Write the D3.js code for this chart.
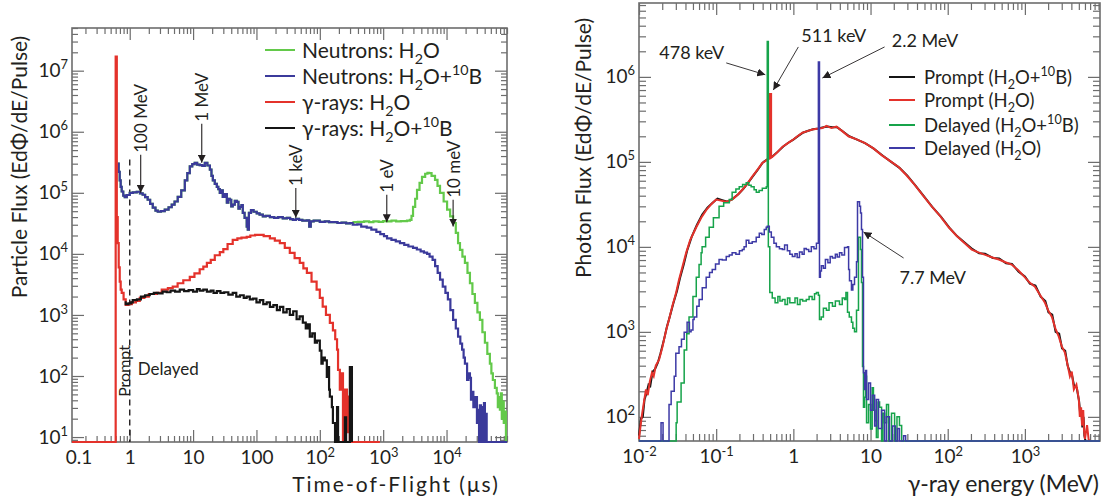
<!DOCTYPE html>
<html>
<head>
<meta charset="utf-8">
<script src="https://cdn.jsdelivr.net/npm/d3@7"></script>
<style>
  body { margin: 0; background: #fff; }
  svg { font-family: Lato, "Open Sans", sans-serif; }
</style>
</head>
<body>
<svg id="chart" width="1112" height="503"></svg>
<script>
// ---------------- data ----------------
const FLOOR_L = 8.3;   // empty bins sit on the bottom of the left plot
const FLOOR_R = 52;    // same for the right plot

// left panel: [time-of-flight (us), flux]
// neutrons, identical for both targets up to a few ms
const neutronShared = [
  [0.646, 3.0e5], [0.67, 2.2e5], [0.695, 1.6e5], [0.72, 1.25e5], [0.747, 1.05e5], [0.79, 9.0e4],
  [0.834, 8.5e4], [0.9, 9.2e4], [1.0, 1.0e5], [1.12, 1.02e5], [1.29, 1.04e5], [1.45, 9.8e4],
  [1.6, 9.3e4], [1.75, 8.5e4], [1.92, 7.7e4], [2.1, 6.6e4], [2.31, 5.7e4], [2.55, 5.1e4],
  [2.77, 4.9e4], [3.1, 5.0e4], [3.57, 5.3e4], [4.1, 5.8e4], [4.6, 6.4e4], [5.1, 7.2e4],
  [5.72, 8.6e4], [6.5, 1.1e5], [7.4, 1.6e5], [8.1, 2.1e5], [8.87, 2.7e5], [9.7, 2.95e5],
  [10.6, 3.1e5], [11.6, 2.9e5], [12.7, 2.85e5], [14.0, 2.75e5], [15.3, 3.1e5], [16.8, 2.8e5],
  [18.4, 2.4e5], [19.5, 1.9e5], [20.5, 1.6e5], [22.0, 1.4e5], [23.7, 1.25e5], [25.0, 1.15e5],
  [26.4, 1.0e5], [28.0, 1.1e5], [29.4, 8.6e4], [31.5, 9.5e4], [34.1, 6.9e4], [36.0, 8.0e4],
  [37.9, 7.7e4], [40.0, 6.0e4], [42.2, 6.4e4], [45.5, 7.4e4], [49.0, 7.1e4], [52.0, 5.5e4],
  [54.6, 5.9e4], [58.0, 6.3e4], [60.9, 4.7e4], [65.0, 3.9e4], [70.2, 2.8e4], [73.0, 2.5e4],
  [76.0, 4.7e4], [82.0, 5.2e4], [90.0, 4.9e4], [101, 4.6e4], [112, 4.4e4], [126, 4.1e4],
  [140, 4.2e4], [163, 4.0e4], [190, 3.9e4], [220, 4.0e4], [260, 3.8e4], [302, 3.9e4],
  [340, 3.7e4], [376, 3.6e4], [420, 3.75e4], [470, 3.6e4], [530, 3.5e4], [625, 3.55e4],
  [680, 2.8e4], [720, 3.4e4], [800, 3.5e4], [1000, 3.35e4], [1200, 3.4e4], [1400, 3.3e4],
  [1610, 3.3e4], [1900, 3.2e4], [2200, 3.25e4], [2600, 3.15e4], [3000, 3.2e4]
];
const neutronH2OTail = [
  [3400, 3.3e4], [4000, 3.35e4], [5000, 3.4e4], [6000, 3.3e4], [7000, 3.4e4], [8500, 3.35e4],
  [10000, 3.45e4], [11400, 3.4e4], [13500, 3.5e4], [16000, 3.4e4], [19000, 3.45e4], [23800, 3.5e4],
  [26400, 3.6e4], [28000, 4.2e4], [29600, 5.9e4], [32000, 8.0e4], [34200, 1.12e5], [37500, 1.45e5],
  [41000, 1.83e5], [46000, 2.05e5], [50000, 2.13e5], [53000, 2.1e5], [58000, 1.9e5], [65800, 1.63e5],
  [72000, 1.3e5], [78900, 1.0e5], [90000, 7.2e4], [102000, 5.3e4], [114000, 4.1e4], [127000, 3.2e4],
  [140000, 2.2e4], [152000, 1.5e4], [163000, 1.16e4], [178000, 9.0e3], [195000, 7.1e3], [214000, 4.9e3],
  [234000, 3.3e3], [256000, 2.2e3], [280000, 1.57e3], [307000, 1.1e3], [336000, 830], [368000, 520],
  [403000, 350], [440000, 230], [483000, 160], [510000, 110], [538000, 86], [580000, 64],
  [620000, 52], [645000, 31], [670000, 45], [695000, 28], [720000, 52], [745000, 20],
  [775000, 38], [800000, 17], [830000, 26], [866000, FLOOR_L], [900000, FLOOR_L]
];
const neutronBTail = [
  [3300, 3.0e4], [3900, 3.05e4], [4500, 2.8e4], [5500, 2.7e4], [6500, 2.5e4], [7800, 2.3e4],
  [9000, 2.1e4], [10300, 1.95e4], [11500, 1.8e4], [13500, 1.7e4], [15800, 1.6e4], [18400, 1.5e4],
  [21500, 1.4e4], [25000, 1.32e4], [29600, 1.25e4], [34000, 1.18e4], [39000, 1.1e4], [44000, 1.05e4],
  [49300, 1.0e4], [54000, 9.0e3], [60200, 8.0e3], [66000, 6.3e3], [72400, 4.9e3], [79000, 3.8e3],
  [87100, 2.9e3], [96000, 2.3e3], [105000, 1.8e3], [115000, 1.2e3], [127000, 830], [140000, 600],
  [152000, 440], [165000, 340], [176000, 270], [186000, 200], [195000, 160], [211000, 86],
  [222000, 110], [234000, 93], [243000, 41], [252000, 55], [265000, 31], [280000, 45],
  [302000, 17], [313000, 28], [326000, FLOOR_L], [336000, 33], [350000, FLOOR_L], [362000, 31],
  [375000, FLOOR_L], [390000, 36], [403000, FLOOR_L], [419000, 24], [430000, FLOOR_L], [900000, FLOOR_L]
];
const gammaH2O = [
  [0.1227, FLOOR_L], [0.60, 1.7e7], [0.625, 4.0e4], [0.646, 1.5e4], [0.67, 6.0e3], [0.695, 3.5e3],
  [0.72, 2.6e3], [0.747, 2.3e3], [0.80, 1.8e3], [0.864, 1.46e3], [0.95, 1.5e3], [1.08, 1.6e3],
  [1.25, 1.7e3], [1.44, 1.9e3], [1.7, 2.0e3], [2.0, 2.2e3], [2.67, 2.3e3], [3.2, 2.6e3],
  [4.0, 2.75e3], [4.77, 2.9e3], [5.7, 3.3e3], [7.0, 3.7e3], [8.87, 4.2e3], [10.5, 4.8e3],
  [12.7, 5.6e3], [14.5, 6.2e3], [16.5, 7.1e3], [19.0, 8.0e3], [22.0, 9.5e3], [26.4, 1.07e4],
  [30, 1.2e4], [35, 1.45e4], [42.2, 1.7e4], [50, 1.8e4], [58, 1.85e4], [70.2, 1.9e4],
  [80, 2.0e4], [95, 2.05e4], [113, 2.05e4], [130, 1.95e4], [163, 1.8e4], [195, 1.65e4],
  [234, 1.5e4], [280, 1.25e4], [336, 1.04e4], [400, 8.5e3], [483, 7.1e3], [550, 5.8e3],
  [625, 4.9e3], [740, 3.5e3], [890, 2.6e3], [1000, 1.9e3], [1110, 1.37e3], [1250, 1.0e3],
  [1440, 740], [1610, 560], [1750, 400], [1870, 270], [1940, 126], [2070, 60],
  [2230, 110], [2320, FLOOR_L], [2490, 60], [2680, 12], [2780, 46], [2980, FLOOR_L], [8870, FLOOR_L]
];
const gammaB = [
  [0.83, 1.6e3], [0.864, 1.5e3], [0.95, 1.55e3], [1.05, 1.6e3], [1.115, 1.75e3], [1.3, 1.8e3],
  [1.5, 2.0e3], [1.75, 2.1e3], [2.07, 2.2e3], [2.4, 2.3e3], [2.8, 2.25e3], [3.3, 2.4e3],
  [3.84, 2.35e3], [4.4, 2.5e3], [5.2, 2.4e3], [6.16, 2.6e3], [7.2, 2.45e3], [8.5, 2.55e3],
  [10, 2.4e3], [11.5, 2.65e3], [12.7, 2.5e3], [14.5, 2.6e3], [16.5, 2.4e3], [19, 2.5e3],
  [21, 2.3e3], [23.7, 2.45e3], [27, 2.3e3], [31, 2.35e3], [36, 2.15e3], [42.2, 2.3e3],
  [48, 2.0e3], [55, 2.1e3], [63, 1.9e3], [70, 2.0e3], [78.5, 1.8e3], [88, 1.85e3],
  [100, 1.6e3], [113, 1.75e3], [128, 1.5e3], [145, 1.6e3], [163, 1.35e3], [185, 1.45e3],
  [210, 1.2e3], [234, 1.35e3], [265, 1.1e3], [300, 1.25e3], [336, 1.0e3], [380, 1.15e3],
  [430, 850], [480, 950], [539, 750], [600, 600], [650, 700], [695, 440],
  [760, 500], [835, 350], [900, 380], [1000, 260], [1060, 160], [1110, 200],
  [1200, 180], [1290, 97], [1340, 140], [1400, 60], [1440, 46], [1550, 31],
  [1610, 17], [1740, FLOOR_L], [1870, 31], [1940, FLOOR_L], [2400, FLOOR_L], [2490, 21],
  [2600, FLOOR_L], [2980, 140], [3210, FLOOR_L]
];

// right panel: [gamma energy (MeV), flux]
const promptB = [
  [0.0100, 60], [0.0106, 95], [0.0112, 100], [0.0118, 160], [0.0125, 190], [0.0133, 240],
  [0.014, 230], [0.015, 340], [0.016, 360], [0.0175, 430], [0.019, 560], [0.021, 800],
  [0.023, 1150], [0.025, 1500], [0.028, 2200], [0.031, 3000], [0.034, 4300], [0.038, 6200],
  [0.042, 9000], [0.048, 1.3e4], [0.056, 1.8e4], [0.066, 2.4e4], [0.077, 2.9e4], [0.09, 3.3e4],
  [0.104, 3.7e4], [0.12, 3.55e4], [0.14, 3.4e4], [0.165, 3.7e4], [0.195, 4.2e4], [0.225, 4.8e4],
  [0.26, 5.7e4], [0.30, 6.8e4], [0.35, 8.2e4], [0.40, 9.8e4], [0.46, 1.07e5], [0.53, 1.15e5],
  [0.63, 1.32e5], [0.74, 1.52e5], [0.86, 1.68e5], [1.0, 1.83e5], [1.16, 2.02e5], [1.35, 2.22e5],
  [1.56, 2.32e5], [1.8, 2.42e5], [2.1, 2.47e5], [2.45, 2.55e5], [2.75, 2.6e5], [3.2, 2.55e5],
  [3.7, 2.55e5], [4.4, 2.28e5], [5.3, 2.0e5], [6.7, 1.83e5], [8.6, 1.65e5], [11, 1.43e5],
  [14.3, 1.19e5], [18.5, 1.0e5], [23.7, 8.5e4], [30, 6.9e4], [38, 5.3e4], [49, 3.95e4],
  [63, 2.95e4], [82, 2.25e4], [105, 1.68e4], [133, 1.33e4], [170, 1.1e4], [210, 9.4e3],
  [255, 8.4e3], [305, 8.3e3], [385, 7.4e3], [465, 7.3e3], [570, 6.4e3], [680, 6.3e3],
  [830, 5.1e3], [1000, 4.5e3], [1160, 3.7e3], [1370, 3.5e3], [1600, 2.6e3], [1840, 2.3e3],
  [2020, 1.7e3], [2260, 1.6e3], [2500, 1.0e3], [2780, 950], [3030, 640], [3330, 600],
  [3580, 400], [3860, 330], [4080, 310], [4350, 230], [4700, 220], [5050, 150],
  [5200, 110], [5400, 120], [5550, 75], [5750, 100], [5900, 60], [6100, 52]
];
const promptH2O = [
  [0.0100, 55], [0.0105, 80], [0.011, 110], [0.0116, 150], [0.0123, 210], [0.013, 180],
  [0.0138, 260], [0.0147, 330], [0.0155, 300], [0.0165, 400], [0.0182, 470], [0.020, 650],
  [0.0225, 1050], [0.0245, 1400], [0.027, 2000], [0.030, 2800], [0.033, 4100], [0.0365, 5800],
  [0.0408, 8500], [0.046, 1.2e4], [0.0552, 1.7e4], [0.064, 2.2e4], [0.0742, 2.7e4], [0.087, 3.2e4],
  [0.10, 3.6e4], [0.115, 3.5e4], [0.135, 3.4e4], [0.161, 3.6e4], [0.19, 4.1e4], [0.218, 4.7e4],
  [0.255, 5.6e4], [0.293, 6.7e4], [0.34, 8.0e4], [0.396, 9.7e4], [0.45, 1.05e5], [0.488, 1.1e5],
  [0.498, 1.1e5], [0.498, 6.3e5], [0.515, 6.3e5], [0.515, 1.12e5], [0.533, 1.14e5],
  [0.62, 1.3e5], [0.72, 1.5e5], [0.84, 1.65e5], [0.97, 1.8e5],
  [1.13, 2.0e5], [1.31, 2.2e5], [1.52, 2.3e5], [1.76, 2.4e5], [2.05, 2.45e5], [2.38, 2.5e5],
  [2.68, 2.65e5], [3.11, 2.5e5], [3.62, 2.6e5], [4.3, 2.3e5], [5.18, 2.0e5], [6.5, 1.85e5],
  [8.37, 1.67e5], [10.8, 1.45e5], [13.9, 1.2e5], [18, 1.02e5], [23.1, 8.7e4], [29, 7.0e4],
  [37.2, 5.4e4], [48, 4.0e4], [62, 3.0e4], [80, 2.3e4], [103, 1.7e4], [130, 1.35e4],
  [166, 1.1e4], [205, 9.3e3], [250, 8.6e3], [301, 8.1e3], [380, 7.5e3], [460, 7.1e3],
  [560, 6.6e3], [674, 6.2e3], [820, 5.3e3], [995, 4.4e3], [1150, 3.8e3], [1350, 3.4e3],
  [1580, 2.7e3], [1820, 2.2e3], [2000, 1.8e3], [2240, 1.5e3], [2480, 1.1e3], [2750, 880],
  [3000, 680], [3300, 570], [3550, 420], [3830, 300], [4050, 340], [4310, 210],
  [4650, 240], [5000, 160], [5150, 100], [5350, 130], [5500, 79], [5700, 120],
  [5830, 70], [6000, 55], [6390, 80], [6700, 54], [7000, 52]
];
const delayedB = [
  [0.0100, FLOOR_R], [0.0303, 85], [0.0312, 150], [0.0351, 250], [0.0385, 610], [0.0415, 950],
  [0.0445, 1500], [0.050, 2600], [0.0552, 4400], [0.06, 6200], [0.0638, 8500], [0.0657, 1.0e4],
  [0.073, 1.3e4], [0.0812, 1.7e4], [0.092, 2.2e4], [0.109, 3.0e4], [0.125, 3.3e4], [0.148, 3.6e4],
  [0.161, 4.4e4], [0.18, 4.8e4], [0.199, 5.1e4], [0.22, 5.4e4], [0.245, 5.7e4], [0.265, 5.3e4],
  [0.284, 5.1e4], [0.31, 4.7e4], [0.331, 4.4e4], [0.36, 4.6e4], [0.396, 4.9e4], [0.446, 5.1e4],
  [0.459, 2.6e6], [0.474, 1.0e4], [0.495, 2.9e3], [0.533, 2.5e3], [0.58, 2.2e3], [0.63, 2.6e3],
  [0.67, 2.3e3], [0.72, 2.4e3], [0.78, 2.1e3], [0.84, 2.5e3], [0.9, 2.2e3], [0.97, 2.2e3],
  [1.05, 2.5e3], [1.13, 2.1e3], [1.22, 2.4e3], [1.32, 2.3e3], [1.47, 2.4e3], [1.6, 2.6e3],
  [1.75, 2.4e3], [1.88, 2.8e3], [1.99, 2.9e3], [2.11, 2.7e3], [2.18, 1.4e3], [2.3, 1.5e3],
  [2.45, 1.9e3], [2.68, 1.8e3], [2.9, 2.2e3], [3.21, 2.0e3], [3.5, 2.3e3], [3.96, 2.1e3],
  [4.3, 2.5e3], [4.6, 2.4e3], [4.8, 2.9e3], [5.03, 1.7e3], [5.3, 1.5e3], [5.66, 1.3e3],
  [5.9, 1.1e3], [6.2, 1.0e3], [6.58, 1.8e3], [6.98, 1.3e4], [7.42, 9.3e3], [7.63, 3.8e3],
  [7.87, 390], [8.1, 130], [8.37, 170], [8.62, 300], [8.88, 85], [9.42, 140],
  [10.0, 72], [10.5, 220], [10.9, 120], [11.4, 90], [11.9, 57], [12.5, 150],
  [13.1, 130], [13.9, FLOOR_R], [14.5, 110], [15.2, 85], [16.1, 140], [17.1, FLOOR_R],
  [18.7, 110], [20.5, FLOOR_R], [22, 100], [23.7, 79], [25.3, FLOOR_R], [9400, FLOOR_R]
];
const delayedH2O = [
  [0.0100, FLOOR_R], [0.0193, 85], [0.0205, FLOOR_R], [0.0245, 140], [0.0261, 200], [0.0286, 300],
  [0.030, 560], [0.033, 670], [0.0355, 820], [0.0385, 990], [0.042, 1300], [0.045, 1000],
  [0.0473, 1050], [0.050, 1400], [0.0518, 1500], [0.056, 2000], [0.0601, 2400], [0.066, 3300],
  [0.0742, 4400], [0.082, 5000], [0.0889, 5400], [0.098, 6300], [0.109, 7100], [0.12, 7000],
  [0.135, 7700], [0.148, 8000], [0.161, 8500], [0.18, 8200], [0.2, 9000], [0.218, 9300],
  [0.23, 1.0e4], [0.245, 1.2e4], [0.265, 1.1e4], [0.293, 1.15e4], [0.33, 1.3e4], [0.362, 1.45e4],
  [0.39, 1.4e4], [0.42, 1.6e4], [0.445, 1.7e4], [0.459, 1.75e4], [0.488, 1.5e4], [0.518, 1.3e4],
  [0.56, 1.1e4], [0.602, 1.0e4], [0.66, 9.5e3], [0.72, 9.3e3], [0.77, 1.05e4], [0.836, 9.0e3],
  [0.9, 8.2e3], [0.97, 7.7e3], [1.05, 8.3e3], [1.12, 7.5e3], [1.2, 8.7e3], [1.3, 8.2e3],
  [1.38, 9.6e3], [1.47, 9.3e3], [1.58, 8.8e3], [1.71, 1.0e4], [1.85, 9.5e3], [1.99, 1.1e4],
  [2.11, 1.5e6], [2.18, 4.4e3], [2.24, 5.2e3], [2.31, 6.0e3], [2.45, 5.6e3], [2.6, 7.1e3],
  [2.8, 6.5e3], [3.0, 7.7e3], [3.21, 7.4e3], [3.5, 8.2e3], [3.7, 7.6e3], [3.96, 8.5e3],
  [4.25, 8.0e3], [4.6, 9.8e3], [5.03, 1.0e4], [5.2, 5.4e3], [5.34, 4.0e3], [5.66, 3.1e3],
  [5.9, 3.6e3], [6.2, 4.4e3], [6.58, 6.7e3], [6.78, 3.4e4], [7.2, 3.0e4], [7.42, 2.5e4],
  [7.63, 1.6e4], [7.87, 4.4e3], [8.1, 330], [8.37, 210], [8.62, 350], [8.88, 160],
  [9.42, 250], [10.0, 120], [10.6, 180], [11.3, 78], [11.9, 160], [12.7, 73],
  [13.9, 120], [15.2, FLOOR_R], [16.1, 100], [17.6, FLOOR_R], [19.3, 78], [21.0, FLOOR_R],
  [22.4, 73], [23.7, FLOOR_R], [26.8, 60], [28.5, FLOOR_R], [9400, FLOOR_R]
];

// tick labels ("^{..}" = superscript)
const tofTickValues = [0.1, 1, 10, 100, 1e3, 1e4, 1e5];
const tofTickLabels = ["0.1", "1", "10", "100", "10^{2}", "10^{3}", "10^{4}"];
const fluxTickValues = [10, 1e2, 1e3, 1e4, 1e5, 1e6, 1e7];
const fluxTickLabels = ["10^{1}", "10^{2}", "10^{3}", "10^{4}", "10^{5}", "10^{6}", "10^{7}"];
const energyTickValues = [0.01, 0.1, 1, 10, 100, 1000];
const energyTickLabels = ["10^{-2}", "10^{-1}", "1", "10", "10^{2}", "10^{3}"];
const photonTickValues = [1e2, 1e3, 1e4, 1e5, 1e6];
const photonTickLabels = ["10^{2}", "10^{3}", "10^{4}", "10^{5}", "10^{6}"];

// legends
const leftLegend = ["Neutrons: H_{2}O", "Neutrons: H_{2}O+^{10}B", "γ-rays: H_{2}O", "γ-rays: H_{2}O+^{10}B"];
const rightLegend = ["Prompt (H_{2}O+^{10}B)", "Prompt (H_{2}O)", "Delayed (H_{2}O+^{10}B)", "Delayed (H_{2}O)"];

// energy markers on the TOF plot: [label, tof, arrow tip flux, arrow tail flux]
const tofMarkers = [
  ["100 MeV", 1.49, 1.0e5, 4.2e5],
  ["1 MeV", 13.7, 3.1e5, 1.35e6],
  ["1 keV", 418, 3.9e4, 1.2e5],
  ["1 eV", 11400, 3.3e4, 9.3e4],
  ["10 meV", 1.27e5, 2.8e4, 7.7e4]
];
// line markers on the energy plot: [label, text E, text flux, anchor, tail E, tail flux, tip E, tip flux]
const lineMarkers = [
  ["478 keV", 0.127, 1.97e6, "end", 0.135, 1.46e6, 0.433, 1.06e6],
  ["511 keV", 1.27, 3.1e6, "start", 1.16, 2.25e6, 0.55, 7.0e5],
  ["2.2 MeV", 18.8, 2.72e6, "start", 15.2, 2.25e6, 2.38, 9.7e5],
  ["7.7 MeV", 23.7, 4.4e3, "start", 26.8, 7.4e3, 8.1, 1.5e4]
];

// ---------------- drawing ----------------
const svg = d3.select('#chart');
const AXIS = '#6d6d6d', INK = '#231f20';

const xL = d3.scaleLog().domain([0.1227, 9.0e5]).range([72, 507]);
const yL = d3.scaleLog().domain([FLOOR_L, 5.0e7]).range([442, 28]);
const xR = d3.scaleLog().domain([0.01, 9400]).range([639, 1100]);
const yR = d3.scaleLog().domain([FLOOR_R, 7.4e6]).range([441, 3]);

// text with _{sub} and ^{sup}
function rich(sel, s, fs) {
  sel.text(null);
  let cur = 0;
  s.split(/(\^\{[^}]*\}|_\{[^}]*\})/).filter(Boolean).forEach(p => {
    const sup = p.startsWith('^{'), sub = p.startsWith('_{');
    const off = sup ? -0.42 * fs : sub ? 0.3 * fs : 0;
    const ts = sel.append('tspan').text(sup || sub ? p.slice(2, -1) : p);
    if (sup || sub) ts.attr('font-size', 0.68 * fs);
    if (off !== cur) { ts.attr('dy', off - cur); cur = off; }
  });
}

function logTicks(domain, mults) {
  const out = [];
  for (let e = -3; e <= 8; e++) for (const m of mults) {
    const v = m * Math.pow(10, e);
    if (v >= domain[0] * 0.999 && v <= domain[1] * 1.001) out.push(v);
  }
  return out;
}

function frame(x, y, major, minor) {
  const g = svg.append('g');
  const [xa, xb] = x.range(), [yb, ya] = y.range();
  const mults = [2, 3, 4, 5, 6, 7, 8, 9];
  const sides = [
    [d3.axisBottom, x, `translate(0,${yb})`],
    [d3.axisTop, x, `translate(0,${ya})`],
    [d3.axisLeft, y, `translate(${xa},0)`],
    [d3.axisRight, y, `translate(${xb},0)`]
  ];
  sides.forEach(([fn, sc, tr]) => {
    [[logTicks(sc.domain(), [1]), major], [logTicks(sc.domain(), mults), minor]].forEach(([vals, size]) => {
      g.append('g').attr('transform', tr)
        .call(fn(sc).tickValues(vals).tickSize(-size).tickFormat(''))
        .call(s => s.select('.domain').remove())
        .selectAll('line').attr('stroke', AXIS).attr('stroke-width', 1.2);
    });
  });
  g.append('rect').attr('x', xa).attr('y', ya).attr('width', xb - xa).attr('height', yb - ya)
    .attr('fill', 'none').attr('stroke', AXIS).attr('stroke-width', 1.6);
}

function labels(axisFn, scale, vals, labs, tr, pad, fs) {
  const g = svg.append('g').attr('transform', tr)
    .call(axisFn(scale).tickValues(vals).tickSize(0).tickPadding(pad))
    .call(s => s.select('.domain').remove())
    .attr('font-family', null).attr('font-size', fs).attr('color', INK);
  g.selectAll('.tick text').each(function (d, i) { rich(d3.select(this), labs[i], fs); });
  if (axisFn === d3.axisBottom) {
    // a label whose value lies left of the axis is pinned to the axis start
    const r0 = scale.range()[0];
    g.selectAll('.tick').filter(d => scale(d) < r0).attr('transform', `translate(${r0 + 7},0)`);
  }
  return g;
}

// frames
frame(xL, yL, 12, 6);
frame(xR, yR, 12, 7);

// tick labels
labels(d3.axisBottom, xL, tofTickValues, tofTickLabels, `translate(0,442)`, 9, 19);
labels(d3.axisLeft, yL, fluxTickValues, fluxTickLabels, `translate(72,0)`, 4, 19);
labels(d3.axisBottom, xR, energyTickValues, energyTickLabels, `translate(0,441)`, 9, 19);
labels(d3.axisLeft, yR, photonTickValues, photonTickLabels, `translate(639,0)`, 4, 19);

// axis titles
svg.append('text').attr('transform', 'translate(27,167) rotate(-90)')
  .attr('text-anchor', 'middle').attr('font-size', 21).attr('fill', INK)
  .text('Particle Flux (EdΦ/dE/Pulse)');
svg.append('text').attr('transform', 'translate(591,148) rotate(-90)')
  .attr('text-anchor', 'middle').attr('font-size', 21).attr('fill', INK)
  .text('Photon Flux (EdΦ/dE/Pulse)');
svg.append('text').attr('x', 396).attr('y', 492).attr('text-anchor', 'middle')
  .attr('font-size', 21).attr('letter-spacing', 2).attr('fill', INK)
  .text('Time-of-Flight (μs)');
svg.append('text').attr('x', 1099).attr('y', 492).attr('text-anchor', 'end')
  .attr('font-size', 23).attr('fill', INK)
  .text('γ-ray energy (MeV)');

// arrow head
svg.append('defs').append('marker').attr('id', 'arr')
  .attr('viewBox', '0 0 10 10').attr('refX', 10).attr('refY', 5)
  .attr('markerWidth', 8).attr('markerHeight', 8).attr('markerUnits', 'userSpaceOnUse')
  .attr('orient', 'auto')
  .append('path').attr('d', 'M0,0 L10,5 L0,10 Z').attr('fill', INK);

// curves
const lineL = d3.line().x(d => xL(d[0])).y(d => yL(d[1])).curve(d3.curveStepAfter);
const stepR = d3.line().x(d => xR(d[0])).y(d => yR(d[1])).curve(d3.curveStepAfter);
const smoothR = d3.line().x(d => xR(d[0])).y(d => yR(d[1]));

const leftSeries = [
  [neutronShared.concat(neutronH2OTail), '#63c94a'],
  [neutronShared.concat(neutronBTail), '#3b3a9b'],
  [gammaH2O, '#e4322b'],
  [gammaB, '#151515']
];
// prompt spectra have fine bins, drawn as joined points; delayed as histograms
const rightSeries = [
  [promptB, '#151515', 2, smoothR],
  [promptH2O, '#e4322b', 2, smoothR],
  [delayedB, '#16a34a', 1.5, stepR],
  [delayedH2O, '#3d3aa6', 1.5, stepR]
];

// prompt / delayed divider
svg.append('line')
  .attr('x1', xL(1)).attr('x2', xL(1)).attr('y1', yL(3.5e5)).attr('y2', yL(FLOOR_L))
  .attr('stroke', INK).attr('stroke-width', 1.4).attr('stroke-dasharray', '6,4');

leftSeries.forEach(([d, c]) => svg.append('path').attr('d', lineL(d))
  .attr('fill', 'none').attr('stroke', c).attr('stroke-width', 2.2));
rightSeries.forEach(([d, c, w, ln]) => svg.append('path').attr('d', ln(d))
  .attr('fill', 'none').attr('stroke', c).attr('stroke-width', w));

// Prompt / Delayed labels
svg.append('text').attr('transform', `translate(${xL(0.804)},${yL(121)}) rotate(-90)`)
  .attr('text-anchor', 'middle').attr('dominant-baseline', 'central')
  .attr('font-size', 16).attr('fill', INK).text('Prompt');
svg.append('text').attr('x', xL(1.34)).attr('y', yL(134)).attr('dominant-baseline', 'central')
  .attr('font-size', 17).attr('fill', INK).text('Delayed');

// TOF energy markers
tofMarkers.forEach(([lab, t, tip, tail]) => {
  svg.append('line').attr('x1', xL(t)).attr('x2', xL(t)).attr('y1', yL(tail)).attr('y2', yL(tip))
    .attr('stroke', INK).attr('stroke-width', 1.1).attr('marker-end', 'url(#arr)');
  svg.append('text').attr('transform', `translate(${xL(t)},${yL(tail) - 2}) rotate(-90)`)
    .attr('dominant-baseline', 'central').attr('font-size', 17).attr('fill', INK).text(lab);
});

// gamma line markers
lineMarkers.forEach(([lab, tx, ty, anc, ax, ay, bx, by]) => {
  svg.append('line').attr('x1', xR(ax)).attr('y1', yR(ay)).attr('x2', xR(bx)).attr('y2', yR(by))
    .attr('stroke', INK).attr('stroke-width', 0.9).attr('marker-end', 'url(#arr)');
  svg.append('text').attr('x', xR(tx)).attr('y', yR(ty)).attr('text-anchor', anc)
    .attr('dominant-baseline', 'central').attr('font-size', 18).attr('fill', INK).text(lab);
});

// legends
function legend(items, colors, x0, ys, len, gap, fs, w) {
  items.forEach((s, i) => {
    svg.append('line').attr('x1', x0).attr('x2', x0 + len).attr('y1', ys[i]).attr('y2', ys[i])
      .attr('stroke', colors[i]).attr('stroke-width', w);
    const t = svg.append('text').attr('x', x0 + len + gap).attr('y', ys[i] + fs * 0.36)
      .attr('font-size', fs).attr('fill', INK);
    rich(t, s, fs);
  });
}
legend(leftLegend, leftSeries.map(d => d[1]), 265, [50, 76, 102, 128], 30, 7, 21, 2);
legend(rightLegend, rightSeries.map(d => d[1]), 889, [77, 100, 125, 148], 26, 9, 18.5, 2);
</script>
</body>
</html>
